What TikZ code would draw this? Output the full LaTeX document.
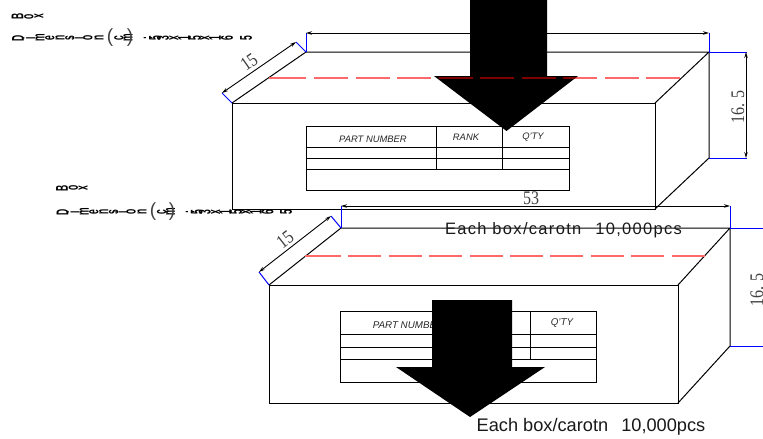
\documentclass[tikz,border=0pt]{standalone}
\usepackage{graphicx}
\usepackage{fontspec}
\setmainfont{Liberation Sans}
\newfontfamily\dimfont{Liberation Serif}
\usetikzlibrary{arrows.meta}
\definecolor{cutred}{RGB}{255,105,105}
\definecolor{cutdark}{RGB}{125,0,0}
\tikzset{>={Stealth[length=6pt,width=3.5pt]},
  outline/.style={line width=1pt},
  thinline/.style={line width=.9pt},
  extline/.style={line width=1pt,blue},
  dimline/.style={line width=.9pt,<->},
  bigarrow/.style={fill=black,draw=none},
  sidedglyph/.style={inner sep=0pt,font=\fontsize{17}{17}\selectfont\bfseries},
  sidedparen/.style={inner sep=0pt,black!75,font=\fontsize{19}{19}\selectfont},
  tablelabel/.style={inner sep=0pt,black!85,font=\fontsize{9.4}{10}\selectfont\itshape},
  tablelabelb/.style={inner sep=0pt,black!85,font=\fontsize{9.8}{10}\selectfont\itshape},
  dimlabel/.style={inner sep=0pt,black!75,font=\fontsize{16}{16}\dimfont},
  packlabel/.style={inner sep=0pt,black!90,font=\fontsize{16.5}{17}\selectfont},
  packlabelb/.style={inner sep=0pt,black!90,font=\fontsize{18.2}{19}\selectfont}}
\newcommand{\sideglyph}[1]{\rotatebox{90}{\scalebox{.5}[1]{#1}}}
\begin{document}
\begin{tikzpicture}[x=1pt,y=-1pt]
  \useasboundingbox (0,0) rectangle (763,439);

  % upper carton
  \draw [outline] (232,103) -- (655,103) -- (655,209) -- (232,209) -- cycle;
  \draw [outline] (232,103) -- (306,52) -- (709,52) -- (655,103);
  \draw [outline] (709,52) -- (709,158) -- (655,209);
  \draw [cutred,line width=1.2pt] (269,78) -- (306,78);
  \draw [cutred,line width=1.2pt,dash pattern=on 34pt off 7.5pt] (314.3,78) -- (683,78);

  \draw [extline] (306,33) -- (306,52);
  \draw [extline] (709,33) -- (709,52);
  \draw [extline] (709,52) -- (747,52);
  \draw [extline] (709,158) -- (747,158);
  \draw [extline] (222,93) -- (232,103);
  \draw [extline] (296,42) -- (306,52);
  \draw [dimline] (306,33) -- (709,33);
  \draw [dimline] (746,52) -- (746,158);
  \draw [dimline] (222,93) -- (296,42);

  % upper label
  \draw [thinline] (306,126) rectangle (569,190);
  \draw [thinline] (306,147) -- (569,147);
  \draw [thinline] (306,158) -- (569,158);
  \draw [thinline] (306,169) -- (569,169);
  \draw [thinline] (436,126) -- (436,169);
  \draw [thinline] (502,126) -- (502,169);
  \node [tablelabel] (partA) at (373,139) {PART NUMBER};
  \node [tablelabel] (rankA) at (466,137) {RANK};
  \node [tablelabel] (qtyA) at (533,137) {Q'TY};

  % lower carton
  \draw [outline] (269,285) -- (678,285) -- (678,403) -- (269,403) -- cycle;
  \draw [outline] (269,285) -- (341,228) -- (730,228) -- (678,285);
  \draw [outline] (730,228) -- (730,346) -- (678,403);
  \draw [cutred,line width=1.2pt] (305,256) -- (341,256);
  \draw [cutred,line width=1.2pt,dash pattern=on 33pt off 7.4pt] (348.3,256) -- (705,256);

  \draw [extline] (341,206) -- (341,228);
  \draw [extline] (730,206) -- (730,228);
  \draw [extline] (730,228) -- (763,228);
  \draw [extline] (730,346) -- (763,346);
  \draw [extline] (259,272) -- (269,285);
  \draw [extline] (331,216) -- (341,228);
  \draw [dimline] (341,206) -- (730,206);
  \draw [dimline] (259,272) -- (331,216);

  % lower label
  \draw [thinline] (340,311) rectangle (596,382);
  \draw [thinline] (340,334) -- (596,334);
  \draw [thinline] (340,347) -- (596,347);
  \draw [thinline] (340,359) -- (596,359);
  \draw [thinline] (530,311) -- (530,359);
  \node [tablelabelb] (partB) at (408,325) {PART NUMBER};
  \node [tablelabelb] (qtyB) at (562,323) {Q'TY};

  % dimensions
  \node [dimlabel,rotate=35,yscale=1.2,transform shape] (widthA) at (249,62) {15};
  \node [dimlabel,rotate=90,yscale=1.2,transform shape] (heightA) at (738,107) {16. 5};
  \node [dimlabel,rotate=38,yscale=1.2,transform shape] (widthB) at (285,240) {15};
  \node [dimlabel,rotate=90,yscale=1.2,transform shape] (heightB) at (757,290) {16. 5};
  \node [dimlabel,yscale=1.2,transform shape] (lengthB) at (531,198) {53};

  \node [packlabel] (packA) at (563.5,230) {\addfontfeature{LetterSpace=8}Each box/carotn\hspace{8pt} 10,000pcs};
  \node [packlabelb] (packB) at (591,427) {Each box/carotn\hspace{8pt} 10,000pcs};

  % big arrows
  \fill [bigarrow] (470,0) -- (547,0) -- (547,76) -- (578,76) -- (506.5,131) -- (434,76) -- (470,76) -- cycle;
  \begin{scope}
    \clip (470,0) -- (547,0) -- (547,76) -- (578,76) -- (506.5,131) -- (434,76) -- (470,76) -- cycle;
    \draw [cutdark,line width=1.2pt,dash pattern=on 34pt off 7.5pt] (314.3,78) -- (683,78);
  \end{scope}
  \fill [bigarrow] (432,300) -- (512,300) -- (512,367) -- (545,367) -- (470,417) -- (396,367) -- (432,367) -- cycle;

  % sideways captions
  \foreach \ch/\px [count=\i] in {B/17.5,o/29,x/39}
    \node [sidedglyph] (boxA\i) at (\px,16.5) {\sideglyph{\ch}};
  \foreach \ch/\px [count=\i] in {D/18,i/29,m/40,e/50,n/60,s/70,i/78,o/88,n/99,c/119,m/128,:/148,5/155,3/163,x/174,1/184,5/195,x/205,1/215,6/227,5/246}
    \node [sidedglyph] (dimA\i) at (\px,38) {\sideglyph{\ch}};
  \node [sidedparen] (openA) at (110,38) {(};
  \node [sidedparen] (closeA) at (130,38) {)};

  \foreach \ch/\px [count=\i] in {B/17.5,o/29,x/39}
    \node [sidedglyph] (boxB\i) at ({.98*\px+45},188) {\sideglyph{\ch}};
  \foreach \ch/\px [count=\i] in {D/18,i/29,m/40,e/50,n/60,s/70,i/78,o/88,n/99,c/119,m/128,:/148,5/155,3/163,x/174,1/184,5/195,x/205,1/215,6/227,5/246}
    \node [sidedglyph] (dimB\i) at ({.98*\px+45},212) {\sideglyph{\ch}};
  \node [sidedparen] (openB) at (153,212) {(};
  \node [sidedparen] (closeB) at (172,212) {)};
\end{tikzpicture}
\end{document}
